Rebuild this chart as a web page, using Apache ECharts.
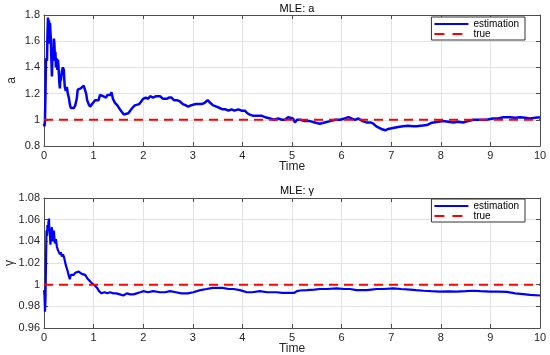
<!DOCTYPE html>
<html><head><meta charset="utf-8">
<script src="https://cdn.jsdelivr.net/npm/echarts@6/dist/echarts.min.js"></script>
<style>html,body{margin:0;padding:0;background:#fff}#c{width:550px;height:355px}</style>
</head><body><div id="c"></div>
<script>
var timeTicks = [0,1,2,3,4,5,6,7,8,9,10];
var tA = [0,0.01,0.02,0.03,0.04,0.05,0.06,0.07,0.08,0.09,0.10,0.11,0.12,0.13,0.14,0.15,0.16,0.17,0.18,0.19,0.20,0.21,0.22,0.23,0.24,0.25,0.26,0.27,0.28,0.29,0.30,0.31,0.32,0.33,0.34,0.36,0.38,0.40,0.41,0.42,0.44,0.46,0.48,0.50,0.52,0.54,0.57,0.60,0.63,0.66,0.68,0.71,0.74,0.77,0.80,0.83,0.85,0.87,0.90,0.93,0.97,1.00,1.03,1.06,1.10,1.13,1.16,1.19,1.22,1.25,1.28,1.31,1.34,1.36,1.39,1.43,1.48,1.53,1.57,1.61,1.65,1.70,1.74,1.78,1.83,1.87,1.92,1.96,2.00,2.05,2.10,2.14,2.20,2.26,2.30,2.34,2.40,2.47,2.52,2.57,2.62,2.68,2.74,2.80,2.86,2.91,2.96,3.00,3.06,3.12,3.18,3.24,3.30,3.35,3.41,3.48,3.54,3.60,3.66,3.72,3.78,3.84,3.92,3.98,4.05,4.10,4.15,4.22,4.30,4.39,4.46,4.56,4.64,4.72,4.80,4.86,4.92,4.96,5.02,5.06,5.10,5.16,5.26,5.36,5.46,5.56,5.66,5.77,5.87,5.97,6.06,6.14,6.20,6.27,6.34,6.42,6.50,6.58,6.64,6.70,6.74,6.80,6.88,6.94,6.98,7.06,7.14,7.24,7.34,7.44,7.51,7.60,7.72,7.80,7.85,7.95,8.05,8.15,8.25,8.35,8.45,8.55,8.66,8.80,8.92,9.05,9.15,9.26,9.40,9.50,9.60,9.70,9.80,9.90,10.0];
var aEst = [0.97,0.95,1.0,1.2,1.47,1.48,1.45,1.65,1.78,1.70,1.76,1.58,1.74,1.75,1.60,1.45,1.33,1.50,1.55,1.48,1.62,1.58,1.45,1.52,1.40,1.47,1.44,1.38,1.46,1.42,1.35,1.28,1.24,1.32,1.30,1.37,1.40,1.38,1.30,1.25,1.22,1.25,1.20,1.17,1.12,1.09,1.10,1.09,1.11,1.16,1.23,1.23,1.24,1.24,1.26,1.25,1.20,1.15,1.12,1.10,1.12,1.11,1.15,1.16,1.15,1.19,1.20,1.18,1.19,1.17,1.19,1.18,1.19,1.21,1.16,1.13,1.11,1.08,1.06,1.04,1.04,1.05,1.06,1.09,1.11,1.12,1.12,1.14,1.16,1.17,1.16,1.18,1.17,1.18,1.17,1.18,1.16,1.16,1.17,1.17,1.15,1.15,1.14,1.12,1.11,1.10,1.11,1.12,1.12,1.12,1.12,1.13,1.15,1.13,1.11,1.10,1.09,1.08,1.08,1.07,1.08,1.07,1.08,1.07,1.07,1.05,1.04,1.03,1.03,1.03,1.02,1.01,1.00,1.01,1.00,1.00,1.02,1.03,1.01,0.98,1.00,1.00,0.99,0.99,0.98,0.97,0.98,0.99,1.00,1.00,1.01,1.02,1.01,1.00,1.01,0.99,0.98,0.98,0.97,0.95,0.935,0.93,0.92,0.93,0.935,0.94,0.945,0.95,0.955,0.95,0.95,0.955,0.96,0.975,0.98,0.985,0.99,0.985,0.98,0.985,0.98,0.99,1.00,1.00,1.00,1.01,1.01,1.02,1.02,1.015,1.02,1.015,1.01,1.015,1.02];
var tG = [0,0.01,0.02,0.03,0.04,0.05,0.06,0.07,0.08,0.09,0.10,0.11,0.12,0.13,0.14,0.15,0.16,0.17,0.18,0.19,0.20,0.21,0.22,0.24,0.26,0.28,0.30,0.32,0.34,0.36,0.38,0.40,0.42,0.44,0.46,0.48,0.50,0.52,0.54,0.57,0.60,0.63,0.66,0.70,0.73,0.76,0.80,0.83,0.87,0.91,0.95,0.99,1.03,1.07,1.11,1.16,1.22,1.28,1.33,1.40,1.46,1.53,1.60,1.67,1.74,1.80,1.87,1.94,2.00,2.10,2.20,2.34,2.44,2.54,2.66,2.77,2.90,3.01,3.15,3.28,3.40,3.48,3.60,3.72,3.82,3.95,4.09,4.20,4.35,4.50,4.69,4.80,4.96,5.05,5.10,5.16,5.30,5.45,5.56,5.70,5.90,6.05,6.17,6.30,6.50,6.60,6.71,6.85,7.04,7.20,7.38,7.50,7.65,7.80,7.98,8.15,8.32,8.50,8.66,8.80,8.99,9.15,9.33,9.50,9.66,9.80,10.0];
var gEst = [0.995,0.99,0.975,0.985,1.02,1.05,1.045,1.055,1.05,1.058,1.061,1.05,1.045,1.037,1.045,1.05,1.053,1.045,1.04,1.048,1.05,1.043,1.038,1.042,1.035,1.032,1.03,1.028,1.030,1.026,1.028,1.026,1.022,1.018,1.017,1.012,1.008,1.005,1.009,1.010,1.009,1.011,1.010,1.012,1.013,1.010,1.009,1.009,1.006,1.004,1.002,1.001,0.999,0.997,0.994,0.992,0.993,0.992,0.993,0.992,0.992,0.991,0.990,0.992,0.991,0.991,0.992,0.993,0.994,0.993,0.994,0.993,0.993,0.994,0.993,0.992,0.992,0.993,0.995,0.996,0.997,0.997,0.997,0.996,0.996,0.995,0.993,0.993,0.994,0.993,0.993,0.9925,0.9925,0.9925,0.994,0.9946,0.995,0.9955,0.996,0.996,0.9966,0.996,0.996,0.995,0.995,0.9955,0.996,0.996,0.9966,0.996,0.9955,0.995,0.9944,0.994,0.9936,0.9938,0.9936,0.994,0.9944,0.994,0.9936,0.9935,0.9933,0.992,0.9912,0.9905,0.990];
var trueA = 1;
var trueG = 1;
var aTicks = [0.8,1,1.2,1.4,1.6,1.8];
var gTicks = [0.96,0.98,1,1.02,1.04,1.06,1.08];

var FONT = "'Liberation Sans', Arial, Helvetica, sans-serif";
var TXT = '#262626';
var chart = echarts.init(document.getElementById('c'), null, {renderer:'canvas'});

function pairs(ts, vs){ return ts.map(function(t,i){ return [t, vs[i]]; }); }
function xAx(gi, bottom){
  return {
    type:'value', gridIndex:gi, position: bottom ? 'bottom':'top',
    min: timeTicks[0], max: timeTicks[timeTicks.length-1], interval: 1,
    name: bottom ? 'Time' : '', nameLocation:'middle', nameGap: 15, nameMoveOverlap:false,
    nameTextStyle:{fontFamily:FONT, fontSize:12, color:TXT},
    axisLine:{show:true, onZero:false, lineStyle:{color:'#4d4d4d', width:1}},
    axisTick:{show:true, inside:true, length:4, lineStyle:{color:'#4d4d4d'}},
    axisLabel:{show:bottom, fontFamily:FONT, fontSize:11, color:TXT, margin:4},
    splitLine:{show:bottom, lineStyle:{color:'#e3e3e3', width:1}}
  };
}
function yAx(gi, left, ticks, name, gap){
  return {
    type:'value', gridIndex:gi, position: left ? 'left':'right',
    min: ticks[0], max: ticks[ticks.length-1], interval: +(ticks[1]-ticks[0]).toFixed(4),
    name: left ? name : '', nameLocation:'middle', nameGap: gap || 24, nameRotate: 90, nameMoveOverlap:false,
    nameTextStyle:{fontFamily:FONT, fontSize:12, color:TXT},
    axisLine:{show:true, onZero:false, lineStyle:{color:'#4d4d4d', width:1}},
    axisTick:{show:true, inside:true, length:4, lineStyle:{color:'#4d4d4d'}},
    axisLabel:{show:left, fontFamily:FONT, fontSize:11, color:TXT, margin:4,
      formatter:function(v){ return String(+v.toFixed(4)); }},
    splitLine:{show:left, lineStyle:{color:'#e3e3e3', width:1}}
  };
}
function legendAt(top){
  return {
    orient:'vertical', right:25, top:top, itemWidth:34, itemHeight:9, itemGap:0,
    backgroundColor:'#fff', borderColor:'#333', borderWidth:1, borderRadius:0,
    padding:[2,6,1,3],
    textStyle:{fontFamily:FONT, fontSize:10, color:'#000', lineHeight:9},
    data:[
      {name:'estimation', icon:'path://M0,0 L34,0 L34,2 L0,2 Z'},
      {name:'true', icon:'path://M0,0 L10,0 L10,2 L0,2 Z M18,0 L28,0 L28,2 L18,2 Z M34,0 L34,2 L34,0 Z'}
    ]
  };
}

var option = {
  animation:false,
  backgroundColor:'#fff',
  title:[
    {text:'MLE: a', left:292, top:-2, textAlign:'center', textStyle:{fontFamily:FONT, fontSize:11, fontWeight:'normal', color:'#000'}},
    {text:'MLE: γ', left:292, top:180, textAlign:'center', textStyle:{fontFamily:FONT, fontSize:11, fontWeight:'normal', color:'#000'}}
  ],
  legend:[legendAt(17), legendAt(199)],
  grid:[
    {left:44, right:10, top:15, height:131, containLabel:false, outerBoundsMode:'none'},
    {left:44, right:10, top:198, height:130, containLabel:false, outerBoundsMode:'none'}
  ],
  xAxis:[xAx(0,true), xAx(1,true), xAx(0,false), xAx(1,false)],
  yAxis:[yAx(0,true,aTicks,'a',26), yAx(1,true,gTicks,'γ',28), yAx(0,false,aTicks,''), yAx(1,false,gTicks,'')],
  series:[
    {name:'estimation', type:'line', xAxisIndex:0, yAxisIndex:0, showSymbol:false, symbol:'none',
     lineStyle:{color:'#0000ff', width:2.5}, itemStyle:{color:'#0000ff'}, data:pairs(tA,aEst), z:3},
    {name:'true', type:'line', xAxisIndex:0, yAxisIndex:0, showSymbol:false, symbol:'none',
     lineStyle:{color:'#ff0000', width:2, type:[9,6]}, itemStyle:{color:'#ff0000'},
     data:[[timeTicks[0],trueA],[timeTicks[timeTicks.length-1],trueA]], z:4},
    {name:'estimation', type:'line', xAxisIndex:1, yAxisIndex:1, showSymbol:false, symbol:'none',
     lineStyle:{color:'#0000ff', width:2.2}, itemStyle:{color:'#0000ff'}, data:pairs(tG,gEst), z:3},
    {name:'true', type:'line', xAxisIndex:1, yAxisIndex:1, showSymbol:false, symbol:'none',
     lineStyle:{color:'#ff0000', width:2, type:[9,6]}, itemStyle:{color:'#ff0000'},
     data:[[timeTicks[0],trueG],[timeTicks[timeTicks.length-1],trueG]], z:4}
  ]
};
chart.setOption(option);
</script></body></html>
